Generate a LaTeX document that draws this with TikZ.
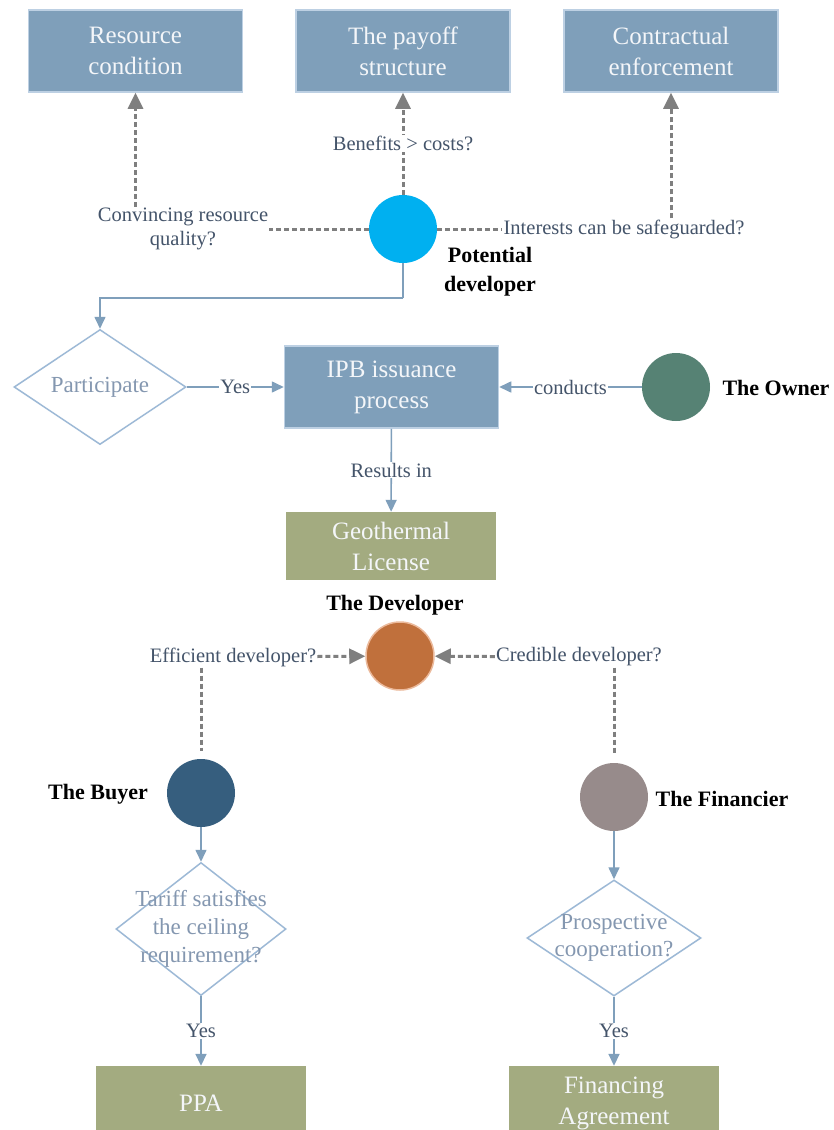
\documentclass[tikz,border=0pt]{standalone}
\usepackage{fontspec}
\IfFontExistsTF{LiberationSerif-Regular.ttf}
  {\setmainfont{LiberationSerif}[Extension=.ttf, UprightFont=*-Regular,
     BoldFont=*-Bold, ItalicFont=*-Italic, BoldItalicFont=*-BoldItalic]}
  {\setmainfont{Liberation Serif}}
\usetikzlibrary{arrows.meta,shapes.geometric}

\definecolor{boxblue}{HTML}{7F9FBA}
\definecolor{boxedge}{HTML}{BDD0E3}
\definecolor{boxtext}{HTML}{F4F6F9}
\definecolor{olive}{HTML}{A3AB80}
\definecolor{flowline}{HTML}{7F9FBB}
\definecolor{dashgray}{HTML}{7F7F7F}
\definecolor{labeltext}{HTML}{44546A}
\definecolor{decedge}{HTML}{9DB9D6}
\definecolor{dectext}{HTML}{8497B0}
\definecolor{cyanc}{HTML}{00B0F0}
\definecolor{ownerc}{HTML}{568274}
\definecolor{devc}{HTML}{C0703C}
\definecolor{devedge}{HTML}{EBB99B}
\definecolor{buyerc}{HTML}{365E7E}
\definecolor{finc}{HTML}{978B8B}

\tikzset{
  bluebox/.style={draw=boxedge, line width=1.5, fill=boxblue, text=boxtext,
    minimum width=214, minimum height=82, inner sep=0, align=center,
    font=\fontsize{25}{31}\selectfont},
  olivebox/.style={fill=olive, text=boxtext, minimum width=210, inner sep=0,
    align=center, font=\fontsize{25}{31}\selectfont},
  actor/.style={circle, minimum size=68, inner sep=0},
  decision/.style={diamond, draw=decedge, line width=1.5, fill=white, inner sep=0},
  dectxt/.style={text=dectext, align=center, font=\fontsize{23}{28}\selectfont},
  lbl/.style={text=labeltext, align=center, inner sep=1, fill=white,
    font=\fontsize{20.5}{24}\selectfont},
  who/.style={text=black, align=center, font=\bfseries\fontsize{22}{29}\selectfont},
  flow/.style={draw=flowline, line width=1.6, -{Triangle[length=12,width=11]}},
  flowline/.style={draw=flowline, line width=1.6},
  gdash/.style={draw=dashgray, line width=3, dash pattern=on 5 off 3},
  gtip/.style={-{Triangle[length=16,width=15]}}
}

\begin{document}
\begin{tikzpicture}[x=1pt, y=-1pt]
\clip (0,0) rectangle (834,1130);
\fill[white] (0,0) rectangle (834,1130);

% three considerations of the potential developer
\node[bluebox] (res) at (135.5,51) {Resource\\condition};
\node[bluebox] (pay) at (403,51) {The payoff\\structure};
\node[bluebox] (enf) at (671,51) {Contractual\\enforcement};

\node[actor, fill=cyanc] (pd) at (403,229) {};
\node[who] (pdname) at (490,272) {Potential\\developer};

\draw[gdash, gtip] (pd) -- node[lbl] {Benefits > costs?} (pay);

\node[lbl] (lres) at (183,229) {Convincing resource\\quality?};
\draw[gdash] (pd) -- (lres.east |- pd);
\draw[gdash, gtip] (res.south |- lres.north) -- (res.south);

\node[lbl] (lint) at (624,229) {Interests can be safeguarded?};
\draw[gdash] (pd) -- (lint);
\draw[gdash, gtip] (enf.south |- lint.north) -- (enf.south);

% IPB issuance
\node[decision, minimum width=172, minimum height=115] (part) at (100,387) {};
\node[dectxt] at (part) {Participate};
\node[bluebox] (ipb) at (391.5,387) {IPB issuance\\process};
\node[actor, fill=ownerc] (owner) at (676,387) {};
\node[who] (ownername) at (776,388) {The Owner};
\node[olivebox, minimum height=68] (geo) at (391,546) {Geothermal\\License};

\coordinate (bend) at (403,298);
\draw[flowline] (pd) -- (bend);
\draw[flow] (bend) -| (part);
\draw[flow] (part) -- node[lbl] {Yes} (ipb);
\draw[flow] (owner) -- node[lbl] {conducts} (ipb);
\draw[flow] (ipb) -- node[lbl] {Results in} (geo);

% the developer and its counterparts
\node[actor, fill=devc, draw=devedge, line width=1.5] (dev) at (400,656) {};
\node[who] (devname) at (395,605) {The Developer};

\node[lbl] (leff) at (233,657) {Efficient developer?};
\node[lbl] (lcred) at (579,657) {Credible developer?};

\node[actor, fill=buyerc] (buyer) at (201,793) {};
\node[who] (buyername) at (98,794) {The Buyer};
\node[actor, fill=finc] (fin) at (614,797) {};
\node[who] (finname) at (722,799) {The Financier};

\draw[gdash, gtip] (leff) -- (dev);
\draw[gdash, gtip] (lcred) -- (dev);
\draw[gdash, shorten >=8] (leff.south -| buyer) -- (buyer);
\draw[gdash, shorten >=8] (lcred.south -| fin) -- (fin);

\node[decision, minimum width=170, minimum height=133] (tariff) at (201,929) {};
\node[dectxt] at (tariff) {Tariff satisfies\\the ceiling\\requirement?};
\node[decision, minimum width=174, minimum height=116] (prosp) at (614,938) {};
\node[dectxt, font=\fontsize{23}{27}\selectfont] at (prosp) {Prospective\\cooperation?};

\node[olivebox, minimum height=74] (ppa) at (201,1103) {PPA};
\node[olivebox, minimum height=74] (fa) at (614,1103) {Financing\\Agreement};

\draw[flow] (buyer) -- (tariff);
\draw[flow] (tariff) -- node[lbl] {Yes} (ppa);
\draw[flow] (fin) -- (prosp);
\draw[flow] (prosp) -- node[lbl] {Yes} (fa);
\end{tikzpicture}
\end{document}
